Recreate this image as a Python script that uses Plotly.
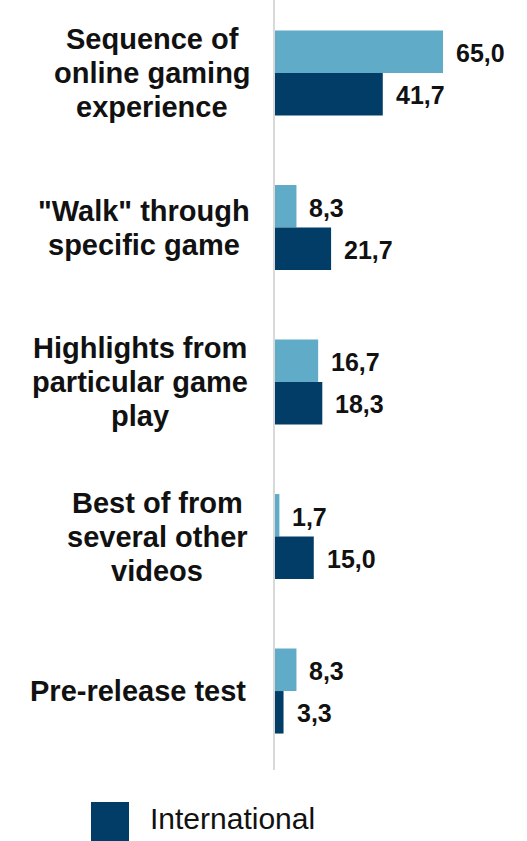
import plotly.graph_objects as go

# Content types, one group of bars each
categories = [
    "Sequence of<br>online gaming<br>experience",
    "\"Walk\" through<br>specific game",
    "Highlights from<br>particular game<br>play",
    "Best of from<br>several other<br>videos",
    "Pre-release test",
]
series_light = [65.0, 8.3, 16.7, 1.7, 8.3]
series_international = [41.7, 21.7, 18.3, 15.0, 3.3]
legend_label = "International"

LIGHT = "#60ABC7"
DARK = "#023D67"
FONT = "Liberation Sans"

W, H = 527, 841
L, T, B = 275, 0, 71
PW, PH = W - L, H - T - B
LABEL_SIZE = 29
LINE_H = 34
LABEL_RIGHT = 246


def fmt(v):
    return f"{v:.1f}".replace(".", ",")


# approximate bold advance widths, used to centre the lines of each label block
ADV = {c: 0.556 for c in "abcdeghknopqsuvxyz0123456789"}
ADV.update({"f": 0.333, "i": 0.278, "j": 0.278, "l": 0.278, "m": 0.889, "r": 0.389,
            "t": 0.333, "w": 0.778, " ": 0.278, "\"": 0.474, "-": 0.333,
            "S": 0.667, "W": 0.944, "H": 0.722, "B": 0.722, "P": 0.667})


def text_w(s, size):
    return sum(ADV.get(ch, 0.6) for ch in s) * size


fig = go.Figure()
fig.add_trace(go.Bar(
    y=categories, x=series_light, orientation="h",
    marker=dict(color=LIGHT, line=dict(width=0)),
    showlegend=False, name="",
))
fig.add_trace(go.Bar(
    y=categories, x=series_international, orientation="h",
    marker=dict(color=DARK, line=dict(width=0)),
    showlegend=False, name=legend_label,
))

annotations = []

# category labels: lines centred within a right-aligned block
label_font = dict(family=FONT, size=LABEL_SIZE, color="#111111", weight="bold")
for c in categories:
    lines = c.split("<br>")
    block_w = max(text_w(s, LABEL_SIZE) for s in lines)
    centre = LABEL_RIGHT - block_w / 2
    n = len(lines)
    for i, s in enumerate(lines):
        annotations.append(dict(
            x=0, xref="paper", y=c, yref="y", xanchor="center", yanchor="middle",
            xshift=centre - L, yshift=((n - 1) / 2 - i) * LINE_H, showarrow=False,
            text=s, font=label_font,
        ))

# value labels beside each bar
value_font = dict(family=FONT, size=25, color="#111111", weight="bold")
for c, a, b in zip(categories, series_light, series_international):
    for v, ys in ((a, 20), (b, -22)):
        annotations.append(dict(
            x=v, xref="x", y=c, yref="y", xanchor="left", yanchor="middle",
            xshift=11, yshift=ys, showarrow=False, text=fmt(v), font=value_font,
        ))

# legend entry
annotations.append(dict(
    x=(148 - L) / PW, xref="paper", y=(PH - 818) / PH, yref="paper",
    xanchor="left", yanchor="middle", showarrow=False, text=legend_label,
    font=dict(family=FONT, size=30, color="#111111"),
))
shapes = [dict(
    type="rect", xref="paper", yref="paper",
    x0=(91 - L) / PW, x1=(129 - L) / PW,
    y0=(PH - 841) / PH, y1=(PH - 802) / PH,
    fillcolor=DARK, line=dict(width=0),
)]

fig.update_layout(
    width=W, height=H,
    margin=dict(l=L, r=0, t=T, b=B),
    paper_bgcolor="white", plot_bgcolor="white",
    barmode="group", bargap=0.45, bargroupgap=0,
    showlegend=False,
    annotations=annotations, shapes=shapes,
    xaxis=dict(range=[0, 97.5], visible=False, showgrid=False, zeroline=False),
    yaxis=dict(
        type="category", range=[4.511, -0.4725], showticklabels=False,
        showgrid=False, zeroline=False, ticks="",
        showline=True, linecolor="#D9D9D9", linewidth=2,
    ),
)

fig.write_html("out.html")
